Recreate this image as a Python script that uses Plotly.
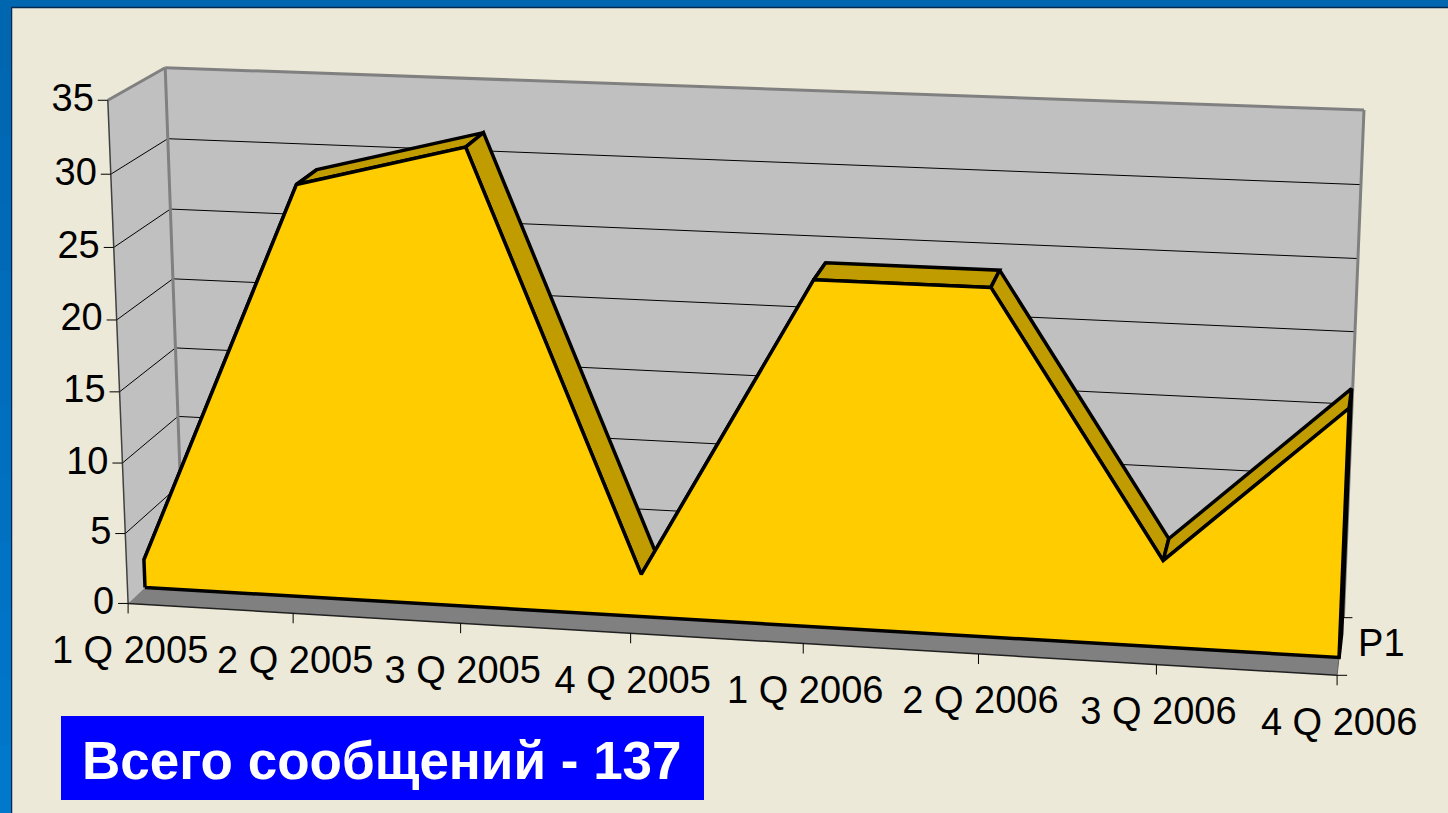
import numpy as np
import plotly.graph_objects as go

categories = ["1 Q 2005", "2 Q 2005", "3 Q 2005", "4 Q 2005", "1 Q 2006", "2 Q 2006", "3 Q 2006", "4 Q 2006"]
messages = [2, 29, 32, 3, 24, 24, 6, 17]
value_ticks = [0, 5, 10, 15, 20, 25, 30, 35]
series_name = "P1"
banner_text = "Всего сообщений - 137"

W, H = 1448, 813
CREAM, GOLD, GOLD_DARK, WALL, FLOOR, EDGE = "#ECE9D8", "#FFCC00", "#C09C00", "#C0C0C0", "#808080", "#808080"
FONT = "Liberation Sans"

# Calibration of the chart box: (category, value, depth) -> page pixel, a perspective camera
cal = [((0, 0, 0), (128, 604)), ((0, 35, 0), (108, 100)), ((7, 0, 0), (1337, 675)), ((0, 35, 1), (165, 68)),
       ((0, 0, 1), (183, 551)), ((7, 35, 1), (1364, 110)), ((7, 0, 1), (1343.5, 618))]
A = []
for (c, v, d), (px, py) in cal:
    X = [c, v / 5, d, 1]
    u, w = px / 1000, py / 1000
    A.append(X + [0, 0, 0, 0] + [-u * t for t in X])
    A.append([0, 0, 0, 0] + X + [-w * t for t in X])
P = np.linalg.svd(np.array(A))[2][-1].reshape(3, 4)


def proj(c, v, d):
    h = P @ np.array([c, v / 5, d, 1.0])
    return h[0] / h[2] * 1000, h[1] / h[2] * 1000


def path(points):
    xy = [proj(*p) for p in points]
    return [a for a, _ in xy], [b for _, b in xy]


fig = go.Figure()


def poly(points, fill, line=None, width=0):
    x, y = path(points)
    fig.add_trace(go.Scatter(x=x + x[:1], y=y + y[:1], mode="lines", fill="toself", fillcolor=fill,
                             line=dict(color=line or fill, width=width), hoverinfo="skip", showlegend=False))


def seg(p, q, color="#000000", width=1, dx=0, dy=0):
    x, y = path([p, q])
    fig.add_trace(go.Scatter(x=[x[0], x[1] + dx], y=[y[0], y[1] + dy], mode="lines",
                             line=dict(color=color, width=width), hoverinfo="skip", showlegend=False))


n = len(categories) - 1
vmax = value_ticks[-1]
poly([(0, 0, 0), (0, vmax, 0), (0, vmax, 1), (0, 0, 1)], WALL)
poly([(0, 0, 1), (0, vmax, 1), (n, vmax, 1), (n, 0, 1)], WALL)
poly([(0, 0, 0), (n, 0, 0), (n, 0, 1), (0, 0, 1)], FLOOR)

for v in value_ticks[1:-1]:
    seg((0, v, 0), (0, v, 1))
    seg((0, v, 1), (n, v, 1))

seg((0, vmax, 0), (0, vmax, 1), EDGE, 3)
seg((0, vmax, 1), (n, vmax, 1), EDGE, 3)
seg((0, 0, 1), (0, vmax, 1), EDGE, 3)
seg((n, 0, 1), (n, vmax, 1), EDGE, 3)
seg((0, 0, 0), (0, vmax, 0), "#404040", 1.5)
seg((0, 0, 0), (n, 0, 0), "#202020", 1.5)
seg((n, 0, 0), (n, 0, 1), "#606060", 1)

# Axis ticks
for v in value_ticks:
    seg((0, v, 0), (0, v, 0), dx=-10)
for i in range(n + 1):
    seg((i, 0, 0), (i, 0, 0), dy=10)
seg((n, 0, 0), (n, 0, 0), dx=10)
seg((n, 0, 1), (n, 0, 1), dx=9)

# Area: right cap and top band sit behind the front face
D0, D1 = 0.30, 0.71
poly([(n, 0, D0), (n, messages[n], D0), (n, messages[n], D1), (n, 0, D1)], "#000000", "#000000", 3.5)
for i in range(n):
    poly([(i, messages[i], D0), (i + 1, messages[i + 1], D0), (i + 1, messages[i + 1], D1), (i, messages[i], D1)],
         GOLD_DARK, "#000000", 3.5)
front = [(0, 0, D0)] + [(i, messages[i], D0) for i in range(n + 1)] + [(n, 0, D0)]
poly(front, GOLD, "#000000", 3.5)

# Labels
tx, ty = zip(*[proj(0, v, 0) for v in value_ticks])
fig.add_trace(go.Scatter(x=[a - 14 for a in tx], y=[b + 1 for b in ty], mode="text", text=[str(v) for v in value_ticks],
                         textposition="middle left", textfont=dict(family=FONT, size=38, color="#000000"),
                         hoverinfo="skip", showlegend=False))
cx, cy = zip(*[proj(i, 0, 0) for i in range(n + 1)])
fig.add_trace(go.Scatter(x=[a + 2 for a in cx], y=[b + 50 for b in cy], mode="text", text=categories,
                         textposition="middle center", textfont=dict(family=FONT, size=38, color="#000000"),
                         hoverinfo="skip", showlegend=False))
sx, sy = proj(n, 0, 0.5)
fig.add_trace(go.Scatter(x=[sx + 41], y=[sy + 1], mode="text", text=[series_name], textposition="middle center",
                         textfont=dict(family=FONT, size=38, color="#000000"), hoverinfo="skip", showlegend=False))

# Page frame and banner
shapes = [
    dict(type="rect", xref="x", yref="y", x0=61, x1=704, y0=716, y1=800, fillcolor="#0000FF", line_width=0),
    dict(type="rect", xref="x", yref="y", x0=0, x1=W, y0=0, y1=7, fillcolor="#0066B0", line_width=0),
    dict(type="line", xref="x", yref="y", x0=11, x1=W, y0=7.5, y1=7.5, line=dict(color="#002850", width=1.5)),
    dict(type="line", xref="x", yref="y", x0=11.5, x1=11.5, y0=7, y1=H, line=dict(color="#002850", width=1.5)),
]
bands = 12
for b in range(bands):
    t = b / (bands - 1)
    col = "#%02X%02X%02X" % (0, int(0x66 + t * 0x12), int(0xB0 + t * 0x1C))
    shapes.append(dict(type="rect", xref="x", yref="y", x0=0, x1=11, y0=round(H * b / bands), y1=H,
                       fillcolor=col, line_width=0))
annotations = [dict(x=382, y=760, xref="x", yref="y", text=banner_text, showarrow=False,
                    font=dict(family=FONT, size=53, color="#FFFFFF", weight="bold"))]

fig.update_layout(width=W, height=H, margin=dict(l=0, r=0, t=0, b=0), paper_bgcolor=CREAM, plot_bgcolor=CREAM,
                  showlegend=False, shapes=shapes, annotations=annotations,
                  xaxis=dict(range=[0, W], visible=False, fixedrange=True),
                  yaxis=dict(range=[H, 0], visible=False, fixedrange=True))
fig.write_html("out.html", config={"displayModeBar": False},
               post_script="document.body.style.margin='0';document.body.style.overflow='hidden';")
